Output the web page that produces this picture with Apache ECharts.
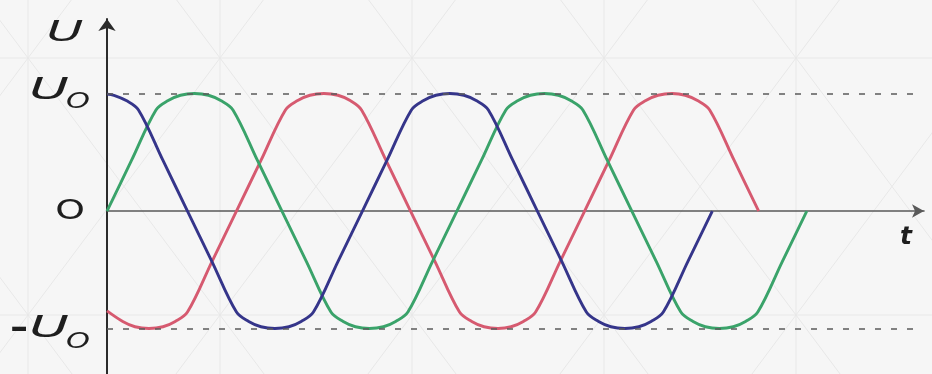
<!DOCTYPE html>
<html>
<head>
<meta charset="utf-8">
<script src="https://cdn.jsdelivr.net/npm/echarts@6/dist/echarts.min.js"></script>
<style>
  html, body { margin: 0; padding: 0; background: #f6f6f6; }
  #chart { width: 932px; height: 374px; }
</style>
</head>
<body>
<div id="chart"></div>
<script>
// Three phase voltages, U in units of the amplitude U0, t in ms.
const bluePhase = [
  [0, 0.995], [0.4, 0.985], [1.1, 0.94], [1.8, 0.86], [3.2, 0.43], [4.6, 0],
  [6.0, -0.43], [7.4, -0.86], [8.1, -0.94], [8.8, -0.985], [9.6, -1], [10.4, -0.985], [11.1, -0.94], [11.8, -0.86], [13.2, -0.43], [14.6, 0],
  [16.0, 0.43], [17.4, 0.86], [18.1, 0.94], [18.8, 0.985], [19.6, 1], [20.4, 0.985], [21.1, 0.94], [21.8, 0.86], [23.2, 0.43], [24.6, 0],
  [26.0, -0.43], [27.4, -0.86], [28.1, -0.94], [28.8, -0.985], [29.6, -1], [30.4, -0.985], [31.1, -0.94], [31.8, -0.86], [33.2, -0.43], [34.6, 0]
];
const greenPhase = [
  [0, 0], [1.4, 0.43], [2.8, 0.86], [3.5, 0.94], [4.2, 0.985], [5.0, 1], [5.8, 0.985], [6.5, 0.94], [7.2, 0.86], [8.6, 0.43], [10.0, 0],
  [11.4, -0.43], [12.8, -0.86], [13.5, -0.94], [14.2, -0.985], [15.0, -1], [15.8, -0.985], [16.5, -0.94], [17.2, -0.86], [18.6, -0.43], [20.0, 0],
  [21.4, 0.43], [22.8, 0.86], [23.5, 0.94], [24.2, 0.985], [25.0, 1], [25.8, 0.985], [26.5, 0.94], [27.2, 0.86], [28.6, 0.43], [30.0, 0],
  [31.4, -0.43], [32.8, -0.86], [33.5, -0.94], [34.2, -0.985], [35.0, -1], [35.8, -0.985], [36.5, -0.94], [37.2, -0.86], [38.6, -0.43], [40.0, 0]
];
const redPhase = [
  [0, -0.85], [0.9, -0.94], [1.6, -0.985], [2.4, -1], [3.2, -0.985], [3.9, -0.94], [4.6, -0.86], [6.0, -0.43], [7.4, 0],
  [8.8, 0.43], [10.2, 0.86], [10.9, 0.94], [11.6, 0.985], [12.4, 1], [13.2, 0.985], [13.9, 0.94], [14.55, 0.86], [15.95, 0.43], [17.35, 0],
  [18.75, -0.43], [20.15, -0.86], [20.85, -0.94], [21.55, -0.985], [22.35, -1], [23.1, -0.985], [23.8, -0.94], [24.5, -0.86], [25.9, -0.43], [27.3, 0],
  [28.7, 0.43], [30.1, 0.86], [30.8, 0.94], [31.5, 0.985], [32.3, 1], [33.05, 0.985], [33.75, 0.94], [34.45, 0.86], [35.85, 0.43], [37.25, 0]
];

// Reference levels and their labels
const levelValues = [1, 0, -1];
const levelMain = ['U', 'O', '-U'];
const levelSub = ['O', '', 'O'];
const axisNameY = 'U';
const axisNameX = 't';
const tMin = 0;
const tMax = 46.7;
const uMin = -1.387;
const uMax = 1.634;
const dashEnd = 46.3;

const chart = echarts.init(document.getElementById('chart'), null, { renderer: 'canvas' });

const lineSeries = (name, data, color) => ({
  name: name,
  type: 'line',
  data: data,
  smooth: 0.35,
  showSymbol: false,
  silent: true,
  lineStyle: { color: color, width: 2.9 },
  z: 3
});

const option = {
  animation: false,
  backgroundColor: '#f6f6f6',
  grid: { left: 107, right: 8, top: 19, bottom: 0, containLabel: false },
  xAxis: {
    type: 'value', min: tMin, max: tMax,
    axisLine: {
      onZero: true, symbol: ['none', 'arrow'], symbolSize: [10, 12],
      lineStyle: { color: '#5a5a5a', width: 1.6 }
    },
    axisTick: { show: false }, axisLabel: { show: false }, splitLine: { show: false }
  },
  yAxis: {
    type: 'value', min: uMin, max: uMax,
    axisLine: {
      show: true, onZero: false, symbol: ['none', 'arrow'], symbolSize: [13, 12],
      lineStyle: { color: '#2b2b2b', width: 2 }
    },
    axisTick: { show: false }, axisLabel: { show: false }, splitLine: { show: false }
  },
  series: [
    Object.assign(lineSeries('phase3', redPhase, '#d65a70'), {
      markLine: {
        silent: true, symbol: 'none',
        label: { show: false },
        lineStyle: { color: '#5b5b5b', type: [6, 10], width: 1.6 },
        data: [
          [{ coord: [tMin, levelValues[0]] }, { coord: [dashEnd, levelValues[0]] }],
          [{ coord: [tMin, levelValues[2]] }, { coord: [dashEnd, levelValues[2]] }]
        ]
      }
    }),
    lineSeries('phase2', greenPhase, '#3aa36a'),
    lineSeries('phase1', bluePhase, '#35358a')
  ]
};
chart.setOption(option);

// Faint lattice pattern of the backdrop
const lattice = [];
const latticeColor = '#e8e8e8';
const W = 932, H = 374;
const colStep = 192, colStart = 28, rowA = 58, rowB = 315;
const slope = (rowB - rowA) / colStep;
for (let k = -3; k <= 7; k++) {
  const x0 = colStart + k * colStep;
  if (x0 >= 0 && x0 <= W) {
    lattice.push({ type: 'line', shape: { x1: x0, y1: 0, x2: x0, y2: H }, style: { stroke: latticeColor, lineWidth: 1 }, z: -10, silent: true });
  }
  lattice.push({ type: 'line', shape: { x1: x0 - rowA / slope, y1: 0, x2: x0 + (H - rowA) / slope, y2: H }, style: { stroke: latticeColor, lineWidth: 1 }, z: -10, silent: true });
  lattice.push({ type: 'line', shape: { x1: x0 + rowA / slope, y1: 0, x2: x0 - (H - rowA) / slope, y2: H }, style: { stroke: latticeColor, lineWidth: 1 }, z: -10, silent: true });
}
[rowA, rowB].forEach(y => {
  lattice.push({ type: 'line', shape: { x1: 0, y1: y, x2: W, y2: y }, style: { stroke: latticeColor, lineWidth: 1 }, z: -10, silent: true });
});

// Axis and level labels
const textColor = '#1e1e1e';
const font = '"DejaVu Sans", sans-serif';
const labels = [];
const txt = (s, x, y, size, opts) => Object.assign({
  type: 'text', x: x, y: y, silent: true, z: 10,
  style: {
    text: s, fill: textColor, fontFamily: font, fontSize: size,
    fontStyle: (opts && opts.italic) ? 'italic' : 'normal',
    fontWeight: (opts && opts.bold) ? 'bold' : 'normal',
    align: 'center', verticalAlign: 'middle'
  }
}, opts && opts.scaleX ? { scaleX: opts.scaleX } : {});

const origin = chart.convertToPixel({ gridIndex: 0 }, [tMin, 0]);
levelValues.forEach((v, i) => {
  const p = chart.convertToPixel({ gridIndex: 0 }, [tMin, v]);
  if (levelSub[i]) {
    const main = levelMain[i];
    if (main.charAt(0) === '-') {
      labels.push(txt('-', origin[0] - 88, p[1] + 2, 30, { bold: true, scaleX: 1.5 }));
    }
    labels.push(txt('U', origin[0] - 58, p[1] + (v > 0 ? -3 : 0), 31, { italic: true, scaleX: 1.75 }));
    labels.push(txt(levelSub[i], origin[0] - 29, p[1] + (v > 0 ? 9 : 14), 21, { italic: true, scaleX: 1.45 }));
  } else {
    labels.push(txt(levelMain[i], origin[0] - 37, p[1] + 1, 26, { scaleX: 1.45 }));
  }
});
labels.push(txt(axisNameY, origin[0] - 42, 34, 28, { italic: true, scaleX: 1.8 }));
labels.push(txt(axisNameX, 906, origin[1] + 26, 25, { italic: true, bold: true }));

chart.setOption({ graphic: { elements: lattice.concat(labels) } });
</script>
</body>
</html>
